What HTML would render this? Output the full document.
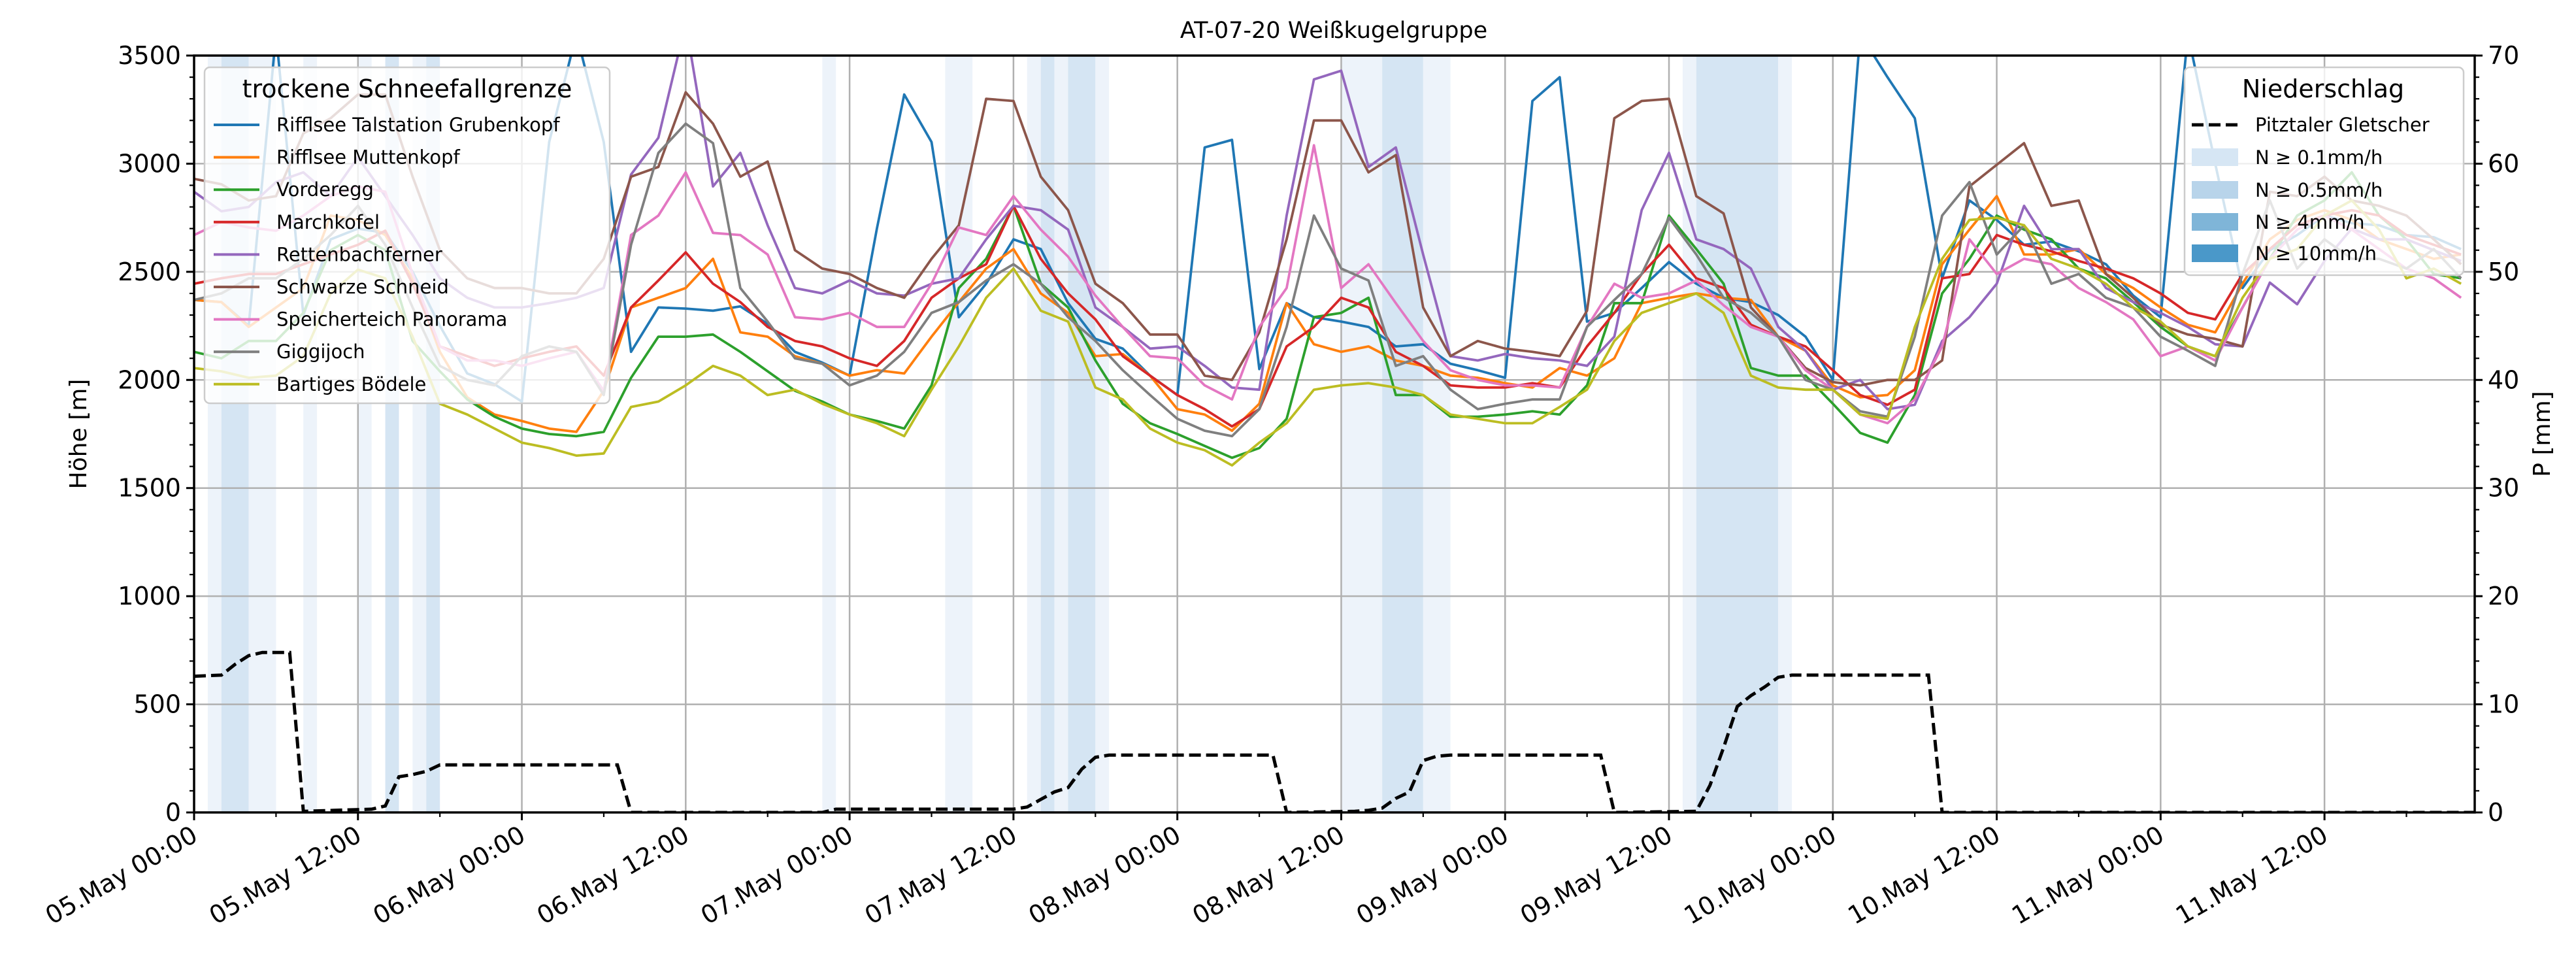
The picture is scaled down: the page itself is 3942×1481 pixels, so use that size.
<!DOCTYPE html>
<html><head><meta charset="utf-8"><style>
html,body{margin:0;padding:0;background:#fff;}
svg{display:block;font-family:"DejaVu Sans","Liberation Sans",sans-serif;}
</style></head><body>
<svg id="chart" width="3942" height="1481" viewBox="0 0 3942 1481" xmlns="http://www.w3.org/2000/svg">
<rect x="0" y="0" width="3942" height="1481" fill="#fff"/>
<g id="bands"></g>
<g id="grid"></g>
<g id="series"></g>
<g id="axes"></g>
<text x="2041" y="58" font-size="35" text-anchor="middle">AT-07-20 Weißkugelgruppe</text>
<text x="0" y="0" font-size="36" text-anchor="middle" transform="translate(132,664) rotate(-90)">Höhe [m]</text>
<text x="0" y="0" font-size="36" text-anchor="middle" transform="translate(3902,664) rotate(-90)">P [mm]</text>
<g id="legend1"></g>
<g id="legend2"></g>
</svg>
<script>
const hours = [];
for (let h = 0; h <= 166; h += 2) hours.push(h);
const stationNames = ["Rifflsee Talstation Grubenkopf","Rifflsee Muttenkopf","Vorderegg","Marchkofel","Rettenbachferner","Schwarze Schneid","Speicherteich Panorama","Giggijoch","Bartiges Bödele"];
const stationColors = ["#1f77b4","#ff7f0e","#2ca02c","#d62728","#9467bd","#8c564b","#e377c2","#7f7f7f","#bcbd22"];
const grubenkopf = [2370,2360,2250,3600,2300,2650,2700,2680,2500,2250,2030,1980,1900,3100,3600,3100,2130,2335,2330,2320,2340,2260,2130,2080,2020,2700,3320,3100,
2290,2445,2650,2605,2355,2190,2145,2020,1930,3075,3110,2050,2355,2290,2270,2245,2155,2165,2075,2045,2010,3290,3400,2270,2310,2425,2545,2445,
2380,2360,2300,2200,2000,3600,3400,3210,2470,2830,2740,2625,2640,2595,2535,2390,2290,3600,3000,2425,2600,2670,2760,2725,2715,2670,2660,2605];
const muttenkopf = [2370,2360,2245,2335,2425,2760,2740,2670,2470,2130,1920,1840,1810,1775,1760,1950,2335,2380,2425,2560,2220,2200,2110,2075,2020,2045,2030,2200,
2360,2515,2605,2400,2310,2110,2120,2020,1865,1840,1765,1890,2355,2165,2130,2155,2090,2065,2020,2010,1985,1965,2055,2020,2100,2355,2380,2400,
2380,2370,2200,2135,1975,1920,1930,2045,2535,2695,2850,2580,2580,2605,2490,2425,2335,2255,2220,2445,2650,2740,2785,2740,2650,2605,2560,2580];
const vorderegg = [2130,2100,2180,2180,2310,2600,2670,2600,2180,2040,1910,1830,1775,1750,1740,1760,2010,2200,2200,2210,2130,2040,1950,1900,1840,1810,1775,1975,
2425,2560,2805,2445,2335,2090,1890,1800,1750,1695,1640,1685,1820,2290,2310,2380,1930,1930,1830,1830,1840,1855,1840,1975,2355,2355,2760,2605,
2445,2055,2020,2020,1890,1755,1710,1930,2400,2560,2760,2695,2650,2515,2470,2360,2245,2155,2110,2335,2560,2760,2830,2960,2760,2650,2490,2470];
const marchkofel = [2445,2470,2490,2490,2535,2580,2625,2690,2445,2155,2110,2065,2100,2130,2155,2020,2335,2460,2590,2445,2360,2245,2180,2155,2100,2065,2180,2380,
2470,2535,2805,2560,2400,2280,2110,2020,1930,1865,1785,1865,2155,2245,2380,2335,2130,2065,1975,1965,1965,1985,1965,2155,2310,2490,2625,2470,
2425,2255,2200,2155,2045,1930,1885,1955,2470,2490,2670,2625,2595,2550,2515,2470,2400,2310,2280,2490,2605,2715,2760,2785,2760,2670,2625,2580];
const rettenbach = [2870,2780,2800,2915,2960,2850,3030,2850,2670,2470,2380,2335,2335,2355,2380,2425,2950,3120,3650,2895,3050,2715,2425,2400,2460,2400,2390,2445,
2470,2650,2805,2785,2695,2335,2245,2145,2155,2065,1965,1955,2760,3390,3430,2985,3075,2580,2110,2090,2120,2100,2090,2065,2200,2785,3050,2650,
2605,2515,2245,2135,1955,2000,1865,1885,2180,2290,2445,2805,2605,2605,2425,2360,2310,2245,2165,2155,2450,2350,2550,2700,2650,2650,2600,2550];
const schwarzeSchneid = [2930,2905,2830,2850,3140,3210,3320,3320,2940,2600,2470,2425,2425,2400,2400,2560,2940,2985,3330,3185,2940,3010,2600,2515,2490,2425,2380,2560,
2715,3300,3290,2940,2785,2445,2355,2210,2210,2020,2000,2220,2650,3200,3200,2960,3040,2335,2110,2180,2145,2130,2110,2320,3210,3290,3300,2850,
2770,2335,2200,2055,1990,1975,2000,2000,2090,2895,2995,3095,2805,2830,2490,2380,2255,2210,2190,2155,2870,2850,2940,2830,2805,2760,2650,2535];
const speicherteich = [2670,2730,2705,2690,2760,2850,2895,2870,2490,2155,2090,2090,2065,2100,2130,1950,2670,2760,2960,2680,2670,2580,2290,2280,2310,2245,2245,2445,
2705,2670,2850,2695,2570,2390,2245,2110,2100,1975,1910,2245,2425,3085,2425,2535,2355,2180,2045,2000,1975,1975,1965,2245,2445,2380,2400,2460,
2345,2245,2200,2045,1955,1840,1800,1910,2155,2650,2490,2560,2535,2425,2360,2280,2110,2155,2090,2335,2560,2695,2760,2695,2605,2515,2470,2380];
const giggijoch = [2370,2400,2470,2470,2560,2670,2805,2625,2335,2065,2000,1975,2110,2155,2130,1930,2625,3050,3185,3095,2425,2270,2100,2075,1975,2020,2130,2310,
2360,2460,2535,2445,2290,2180,2045,1930,1820,1765,1740,1865,2245,2760,2515,2460,2065,2110,1955,1865,1890,1910,1910,2245,2370,2490,2750,2580,
2380,2310,2200,2000,1955,1855,1830,2200,2760,2915,2580,2715,2445,2490,2380,2335,2200,2135,2065,2490,2830,2515,2650,2560,2560,2515,2605,2470];
const bartigesBoedele = [2055,2040,2010,2020,2110,2400,2510,2470,2200,1890,1840,1775,1710,1685,1650,1660,1875,1900,1975,2065,2020,1930,1955,1890,1840,1800,1740,1955,
2155,2380,2515,2320,2270,1965,1910,1775,1710,1675,1605,1710,1800,1955,1975,1985,1965,1930,1840,1820,1800,1800,1875,1955,2180,2310,2355,2400,
2310,2020,1965,1955,1955,1840,1820,2245,2560,2740,2750,2715,2560,2515,2445,2335,2270,2155,2110,2380,2560,2605,2760,2830,2695,2470,2515,2445];
const stationSeries = [grubenkopf,muttenkopf,vorderegg,marchkofel,rettenbach,schwarzeSchneid,speicherteich,giggijoch,bartigesBoedele];

const precipHours = [0,2,3,4,5,7,8,13,14,15,16,17,18,31,32,46,47,60,61,62,63,64,65,66,67,79,80,85,86,87,88,89,90,91,92,103,104,110,111,112,113,114,115,116,117,127,128,167];
const precipValues = [12.6,12.7,13.7,14.5,14.8,14.8,0.1,0.3,0.6,3.3,3.5,3.8,4.4,4.4,0,0,0.3,0.3,0.5,1.2,1.9,2.3,4.0,5.1,5.3,5.3,0,0.1,0.2,0.4,1.3,1.9,4.8,5.2,5.3,5.3,0,0.1,2.5,6.0,9.8,10.8,11.6,12.5,12.7,12.7,0,0];

const bandStart = [1,2,4,8,12,14,16,17,46,55,61,62,63,64,66,84,87,90,109,110,116];
const bandEnd   = [2,4,6,9,13,15,17,18,47,57,62,63,64,66,67,87,90,92,110,116,117];
const bandLevel = [0,1,0,0,0,1,0,1,0,0,0,1,0,1,0,0,1,0,0,1,0];

const yTicks = [0,500,1000,1500,2000,2500,3000,3500];
const y2Ticks = [0,10,20,30,40,50,60,70];
const xTickHours = [0,12,24,36,48,60,72,84,96,108,120,132,144,156];
const xTickLabels = ["05.May 00:00","05.May 12:00","06.May 00:00","06.May 12:00","07.May 00:00","07.May 12:00","08.May 00:00","08.May 12:00","09.May 00:00","09.May 12:00","10.May 00:00","10.May 12:00","11.May 00:00","11.May 12:00"];

const L=297,R=3787,T=85,B=1243,HMAX=167;
const NS='http://www.w3.org/2000/svg';
function X(h){return L+(R-L)*h/HMAX;}
function Y(v){return B-(B-T)*v/3500;}
function Y2(v){return B-(B-T)*v/70;}
function mk(tag,attrs,parent){const e=document.createElementNS(NS,tag);for(const k in attrs)e.setAttribute(k,attrs[k]);parent.appendChild(e);return e;}

const svg=document.getElementById('chart');
const defs=mk('defs',{},svg);
const cp=mk('clipPath',{id:'clip'},defs);
mk('rect',{x:L,y:T,width:R-L,height:B-T},cp);

const bandsG=document.getElementById('bands');
const bandColors=['#edf3fa','#d5e5f3'];
for(let i=0;i<bandStart.length;i++){
  const r=mk('rect',{x:X(bandStart[i]),y:T,width:X(bandEnd[i])-X(bandStart[i]),height:B-T,fill:bandColors[bandLevel[i]]},bandsG);
  
  
}

const gridG=document.getElementById('grid');
yTicks.forEach(v=>{const l=mk('line',{x1:L,x2:R,y1:Y(v),y2:Y(v),stroke:'#b0b0b0','stroke-width':2.5},gridG);
  
  });
xTickHours.forEach(h=>{const l=mk('line',{x1:X(h),x2:X(h),y1:T,y2:B,stroke:'#b0b0b0','stroke-width':2.5},gridG);
  
  });

const serG=document.getElementById('series');
serG.setAttribute('clip-path','url(#clip)');
stationSeries.forEach((s,i)=>{
  const pts=s.map((v,j)=>X(hours[j]).toFixed(1)+','+Y(v).toFixed(1)).join(' ');
  const p=mk('polyline',{points:pts,fill:'none',stroke:stationColors[i],'stroke-width':3.8,'stroke-linejoin':'round'},serG);
  
  
});
const ppts=precipHours.map((h,j)=>X(h).toFixed(1)+','+Y2(precipValues[j]).toFixed(1)).join(' ');
const pl=mk('polyline',{points:ppts,fill:'none',stroke:'#000','stroke-width':5,'stroke-dasharray':'18,8'},serG);



const ax=document.getElementById('axes');
mk('rect',{x:L,y:T,width:R-L,height:B-T,fill:'none',stroke:'#000','stroke-width':3.5},ax);
for(let v=0;v<=3500;v+=100){const major=v%500===0;mk('line',{x1:L,x2:L-(major?12:7),y1:Y(v),y2:Y(v),stroke:'#000','stroke-width':major?3:2.2},ax);}
for(let v=0;v<=70;v+=2){mk('line',{x1:R,x2:R+(v%10===0?12:7),y1:Y2(v),y2:Y2(v),stroke:'#000','stroke-width':v%10===0?3:2.2},ax);}
for(let h=0;h<=HMAX;h+=6){const major=h%12===0;mk('line',{x1:X(h),x2:X(h),y1:B,y2:B+(major?12:7),stroke:'#000','stroke-width':major?3:2.2},ax);}
yTicks.forEach(v=>{const t=mk('text',{x:L-20,y:Y(v)+13,'font-size':38,'text-anchor':'end'},ax);t.textContent=v;
  
  });
y2Ticks.forEach(v=>{const t=mk('text',{x:R+20,y:Y2(v)+13,'font-size':38,'text-anchor':'start'},ax);t.textContent=v;
  
  });
xTickHours.forEach((h,i)=>{const t=mk('text',{x:0,y:0,'font-size':38,'text-anchor':'end',transform:'translate('+(X(h)+8)+','+(B+42)+') rotate(-30)'},ax);t.textContent=xTickLabels[i];
  
  });

// legend 1
const lg1=document.getElementById('legend1');
mk('rect',{x:313,y:103,width:620,height:514,rx:8,fill:'#fff','fill-opacity':0.8,stroke:'#cccccc','stroke-width':2.5},lg1);
const lt1=mk('text',{x:623,y:149,'font-size':38,'text-anchor':'middle'},lg1);lt1.textContent='trockene Schneefallgrenze';
stationNames.forEach((n,i)=>{const y=191+i*49.6;
  mk('line',{x1:327,x2:397,y1:y,y2:y,stroke:stationColors[i],'stroke-width':4},lg1);
  const t=mk('text',{x:423,y:y+10,'font-size':29},lg1);t.textContent=n;
  
  });

// legend 2
const lg2=document.getElementById('legend2');
mk('rect',{x:3343,y:103,width:427,height:318,rx:8,fill:'#fff','fill-opacity':0.8,stroke:'#cccccc','stroke-width':2.5},lg2);
const lt2=mk('text',{x:3555,y:149,'font-size':38,'text-anchor':'middle'},lg2);lt2.textContent='Niederschlag';
mk('line',{x1:3354,x2:3425,y1:191,y2:191,stroke:'#000','stroke-width':5,'stroke-dasharray':'18,8'},lg2);
const l2labels=['Pitztaler Gletscher','N ≥ 0.1mm/h','N ≥ 0.5mm/h','N ≥ 4mm/h','N ≥ 10mm/h'];
const patchColors=['#d6e6f4','#b8d4ea','#7fb5d8','#4a98c9'];
l2labels.forEach((n,i)=>{const y=[191,241,291,340,388][i];
  if(i>0) mk('rect',{x:3354,y:y-14,width:71,height:27,fill:patchColors[i-1]},lg2);
  const t=mk('text',{x:3451,y:y+10,'font-size':29},lg2);t.textContent=n;
  
  });
</script>
</body></html>
